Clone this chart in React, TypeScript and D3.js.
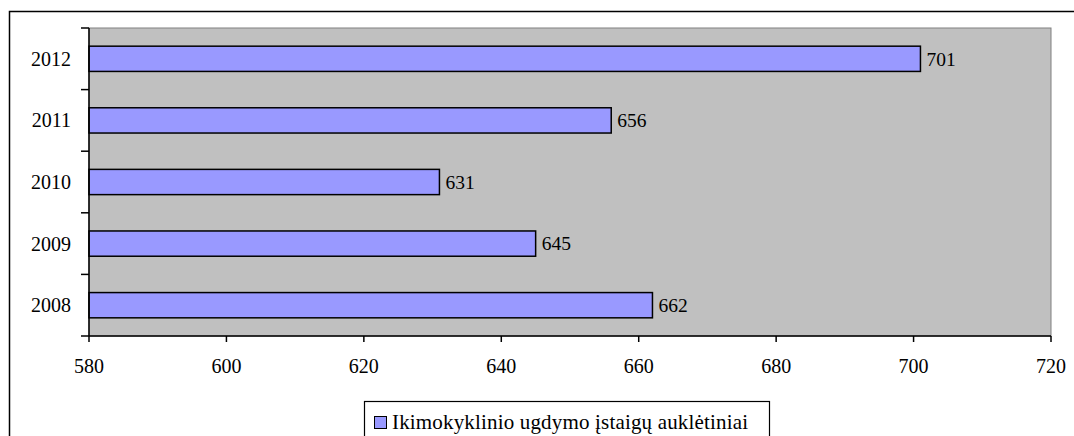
import { useEffect, useRef } from 'react';
import * as d3 from 'd3';

const years = ['2012', '2011', '2010', '2009', '2008'];
const values = [701, 656, 631, 645, 662];
const xTicks = [580, 600, 620, 640, 660, 680, 700, 720];
const seriesName = 'Ikimokyklinio ugdymo įstaigų auklėtiniai';

export default function App() {
  const ref = useRef<SVGSVGElement | null>(null);

  useEffect(() => {
    if (!ref.current) return;
    const width = 1074;
    const height = 436;
    const plot = { left: 89, top: 28, right: 1051, bottom: 336 };
    const font = '"Liberation Serif", "Times New Roman", serif';

    const svg = d3.select(ref.current);
    svg.selectAll('*').remove();

    svg.append('rect').attr('width', width).attr('height', height).attr('fill', '#fff');

    // outer chart frame, runs off the right and bottom edges
    svg
      .append('rect')
      .attr('x', 9.5)
      .attr('y', 11.5)
      .attr('width', 1200)
      .attr('height', 600)
      .attr('fill', 'none')
      .attr('stroke', '#000')
      .attr('stroke-width', 1.5);

    const x = d3.scaleLinear().domain([580, 720]).range([plot.left, plot.right]);
    const y = d3
      .scaleBand<string>()
      .domain(years)
      .range([plot.top, plot.bottom])
      .paddingInner(0.59)
      .paddingOuter(0.295);
    const band = d3.scaleBand<string>().domain(years).range([plot.top, plot.bottom]);

    svg
      .append('rect')
      .attr('x', plot.left)
      .attr('y', plot.top)
      .attr('width', plot.right - plot.left)
      .attr('height', plot.bottom - plot.top)
      .attr('fill', '#c0c0c0')
      .attr('stroke', '#808080')
      .attr('stroke-width', 1);

    svg
      .append('g')
      .selectAll('rect')
      .data(years)
      .join('rect')
      .attr('x', plot.left)
      .attr('y', (d) => y(d)!)
      .attr('width', (_, i) => x(values[i]) - plot.left)
      .attr('height', y.bandwidth())
      .attr('fill', '#9999ff')
      .attr('stroke', '#000')
      .attr('stroke-width', 1.5);

    svg
      .append('g')
      .selectAll('text')
      .data(years)
      .join('text')
      .attr('x', (_, i) => x(values[i]) + 6)
      .attr('y', (d) => y(d)! + y.bandwidth() / 2)
      .attr('dy', '0.35em')
      .attr('font-family', font)
      .attr('font-size', 19.5)
      .text((_, i) => values[i]);

    // y axis
    const yAxis = svg.append('g');
    yAxis
      .append('line')
      .attr('x1', plot.left)
      .attr('x2', plot.left)
      .attr('y1', plot.top)
      .attr('y2', plot.bottom)
      .attr('stroke', '#000')
      .attr('stroke-width', 1.5);
    const bounds = years.map((d) => band(d)!).concat([plot.bottom]);
    yAxis
      .selectAll('line.tick')
      .data(bounds)
      .join('line')
      .attr('class', 'tick')
      .attr('x1', plot.left - 8)
      .attr('x2', plot.left)
      .attr('y1', (d) => d)
      .attr('y2', (d) => d)
      .attr('stroke', '#000')
      .attr('stroke-width', 1.5);
    yAxis
      .selectAll('text')
      .data(years)
      .join('text')
      .attr('x', 71)
      .attr('y', (d) => band(d)! + band.bandwidth() / 2)
      .attr('dy', '0.35em')
      .attr('text-anchor', 'end')
      .attr('font-family', font)
      .attr('font-size', 20)
      .text((d) => d);

    // x axis
    const xAxis = svg.append('g');
    xAxis
      .append('line')
      .attr('x1', plot.left)
      .attr('x2', plot.right)
      .attr('y1', plot.bottom)
      .attr('y2', plot.bottom)
      .attr('stroke', '#000')
      .attr('stroke-width', 1.5);
    xAxis
      .selectAll('line.tick')
      .data(xTicks)
      .join('line')
      .attr('class', 'tick')
      .attr('x1', (d) => x(d))
      .attr('x2', (d) => x(d))
      .attr('y1', plot.bottom)
      .attr('y2', plot.bottom + 6)
      .attr('stroke', '#000')
      .attr('stroke-width', 1.5);
    xAxis
      .selectAll('text')
      .data(xTicks)
      .join('text')
      .attr('x', (d) => x(d))
      .attr('y', 366)
      .attr('dy', '0.35em')
      .attr('text-anchor', 'middle')
      .attr('font-family', font)
      .attr('font-size', 20)
      .text((d) => d);

    // legend
    const legend = svg.append('g');
    legend
      .append('rect')
      .attr('x', 364.5)
      .attr('y', 401.5)
      .attr('width', 405)
      .attr('height', 60)
      .attr('fill', '#fff')
      .attr('stroke', '#000')
      .attr('stroke-width', 1.2);
    legend
      .append('rect')
      .attr('x', 374.5)
      .attr('y', 416.5)
      .attr('width', 12)
      .attr('height', 12)
      .attr('fill', '#9999ff')
      .attr('stroke', '#000')
      .attr('stroke-width', 1);
    legend
      .append('text')
      .attr('x', 392)
      .attr('y', 422)
      .attr('dy', '0.35em')
      .attr('font-family', font)
      .attr('font-size', 21)
      .attr('textLength', 356)
      .attr('lengthAdjust', 'spacing')
      .text(seriesName);
  }, []);

  return (
    <svg
      ref={ref}
      width={1074}
      height={436}
      style={{ position: 'absolute', left: 0, top: 0, display: 'block' }}
    />
  );
}
